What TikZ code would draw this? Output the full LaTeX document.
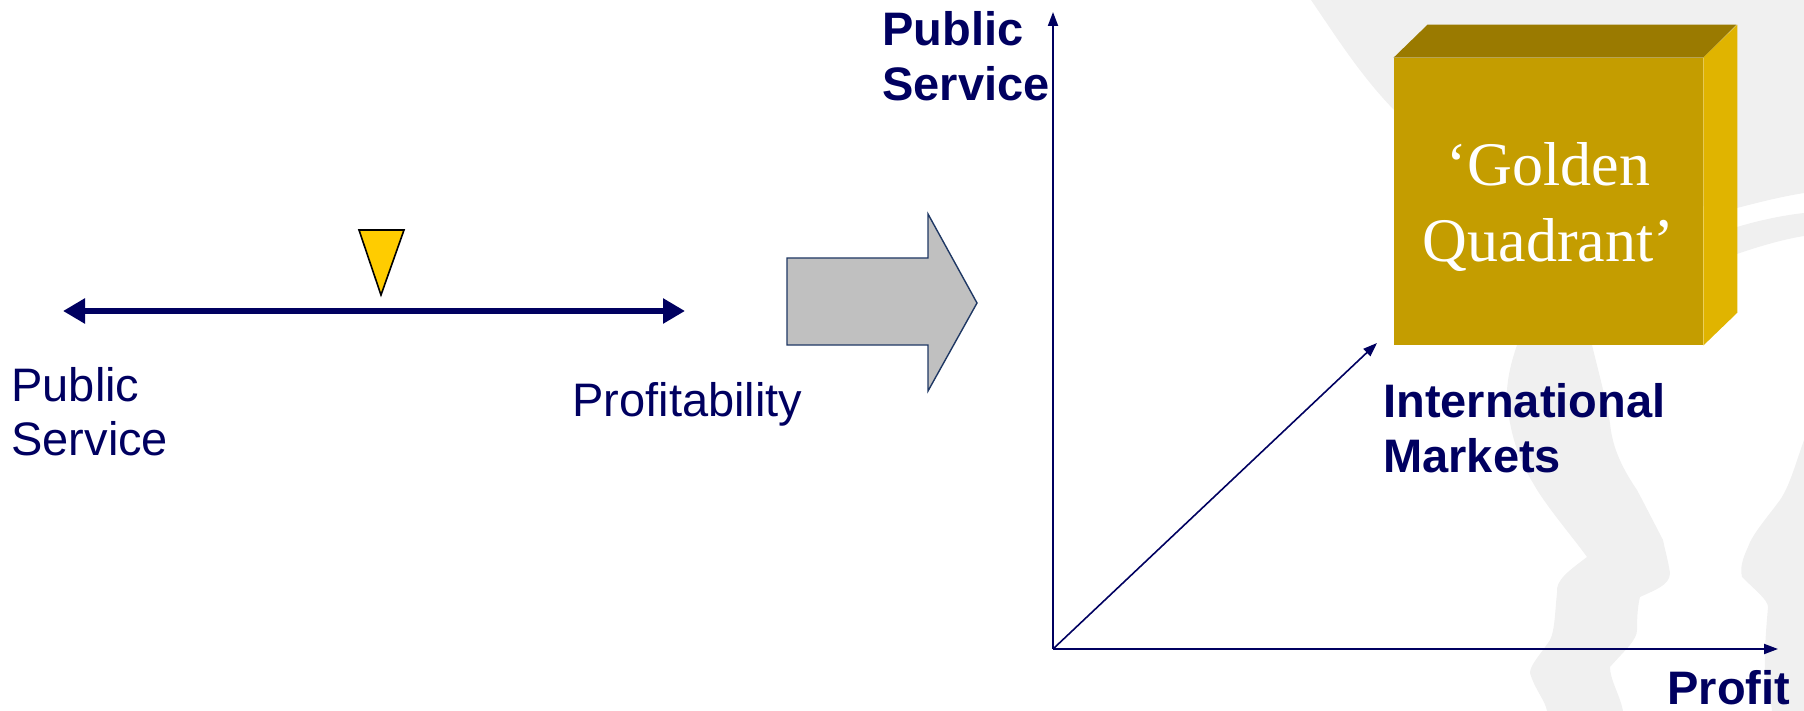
\documentclass[tikz,border=0pt]{standalone}
\usepackage{fontspec}
\setmainfont{Liberation Sans}
\newfontfamily\gqfont{Liberation Serif}
\usetikzlibrary{arrows.meta}
\definecolor{navy}{RGB}{0,0,96}
\definecolor{goldfront}{RGB}{196,157,0}
\definecolor{goldtop}{RGB}{154,122,0}
\definecolor{goldside}{RGB}{224,180,0}
\definecolor{swirlgray}{RGB}{240,240,240}
\definecolor{blockgray}{RGB}{192,192,192}
\definecolor{blockedge}{RGB}{31,56,100}
\definecolor{pointer}{RGB}{255,204,0}

\begin{document}
\begin{tikzpicture}[x=.5pt, y=-.5pt,
		lbl/.style={anchor=base west, inner sep=0, text=navy, align=left, font=\fontsize{23.5}{27}\selectfont},
		boldlbl/.style={lbl, font=\fontsize{23.5}{27.5}\selectfont\bfseries},
		axis/.style={navy, line width=1pt, -{Triangle[length=7pt,width=5pt]}},
		goldbox/.style={fill=goldfront, inner sep=0, minimum width=154.5pt, minimum height=143.5pt, text=white, align=center, text depth=0pt, font=\fontsize{31}{38}\selectfont\gqfont}]
	\useasboundingbox (0,0) rectangle (1804,711);
	% background swirl
	\fill[swirlgray] (1311,0) -- (1804,0) -- (1804,193) .. controls (1780,197) and (1760,202) .. (1737,208) -- (1600,200) -- (1394,110) .. controls (1360,75) and (1335,35) .. (1311,0) -- cycle;
	\fill[swirlgray] (1737,227) .. controls (1760,220) and (1785,215) .. (1804,213) -- (1804,236) .. controls (1785,239) and (1760,246) .. (1737,254) -- cycle;
	\fill[swirlgray] (1517,345) .. controls (1505,380) and (1505,400) .. (1510,423) .. controls (1515,450) and (1525,470) .. (1533,483) .. controls (1545,505) and (1575,540) .. (1587,557) .. controls (1570,570) and (1555,580) .. (1557,593) .. controls (1555,610) and (1555,630) .. (1550,640) .. controls (1540,655) and (1530,665) .. (1530,673) .. controls (1535,690) and (1545,700) .. (1547,711) -- (1623,711) .. controls (1620,695) and (1610,680) .. (1610,667) .. controls (1625,650) and (1637,640) .. (1637,630) .. controls (1637,615) and (1638,605) .. (1640,597) .. controls (1655,590) and (1670,585) .. (1670,573) .. controls (1668,560) and (1665,550) .. (1663,540) .. controls (1650,515) and (1645,505) .. (1637,490) .. controls (1620,465) and (1612,445) .. (1610,423) .. controls (1605,395) and (1598,370) .. (1592,345) -- cycle;
	\fill[swirlgray] (1804,440) .. controls (1795,465) and (1790,485) .. (1780,500) .. controls (1765,520) and (1752,535) .. (1748,547) .. controls (1742,560) and (1740,568) .. (1742,577) .. controls (1755,590) and (1768,600) .. (1768,607) .. controls (1766,630) and (1764,655) .. (1765,673) .. controls (1768,690) and (1771,700) .. (1772,711) -- (1804,711) -- cycle;

	% golden quadrant box
	\node[goldbox] (gq) at (1548.5,201.5) {‘Golden\\Quadrant’};
	\fill[goldtop] (gq.north west) -- ++(34,-33) -- ++(309,0) -- (gq.north east) -- cycle;
	\fill[goldside] (gq.north east) -- ++(34,-33) -- ++(0,288) -- (gq.south east) -- cycle;

	% left: balance
	\coordinate (lend) at (63,311);
	\coordinate (rend) at (685,311);
	\draw[navy, line width=3pt, {Triangle[length=11pt,width=12pt]}-{Triangle[length=11pt,width=12pt]}] (lend) -- (rend);
	\draw[fill=pointer, line width=.8pt] (359,230) -- (404,230) -- (381,295) -- cycle;
	\node[lbl] (ps) at (11,455) {Public\\Service};
	\node[lbl] (pr) at (572,416) {Profitability};

	% block arrow
	\draw[fill=blockgray, draw=blockedge, line width=.7pt] (787,258) -- (928,258) -- (928,214) -- (977,303) -- (928,391) -- (928,345) -- (787,345) -- cycle;

	% right: axes
	\coordinate (o) at (1053,649);
	\coordinate (ytop) at (1053,12);
	\coordinate (xend) at (1778,649);
	\coordinate (mkt) at (1377,343);
	\draw[axis] (o) -- (ytop);
	\draw[axis] (o) -- (xend);
	\draw[axis, line width=.8pt] (o) -- (mkt);
	\node[boldlbl] (yl) at (882,101) {Public\\Service};
	\node[boldlbl] (im) at (1383,472) {International\\Markets};
	\node[boldlbl] (xl) at (1667,704) {Profit};
\end{tikzpicture}
\end{document}
